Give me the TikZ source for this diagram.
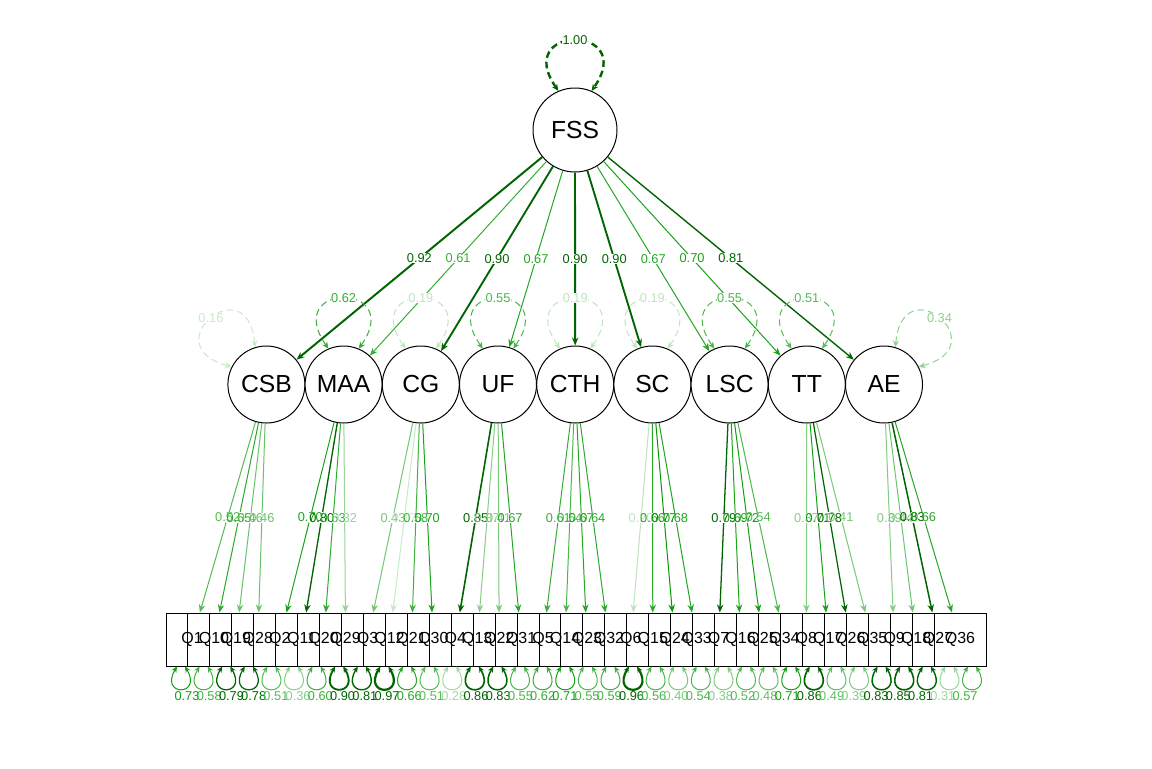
\documentclass[tikz,border=0pt]{standalone}
\usepackage{fontspec}
\setmainfont{Liberation Sans}
\usetikzlibrary{arrows.meta,calc}
\definecolor{dkg}{HTML}{006400}
\definecolor{ltg}{HTML}{009900}
\newcommand\mkcol[1]{%
  \pgfmathtruncatemacro\isdk{(#1>=0.775)?1:0}%
  \ifnum\isdk=1
    \colorlet{ec}{dkg}\pgfmathsetmacro\ew{0.9+0.8*(#1-0.775)/0.2}%
  \else
    \pgfmathtruncatemacro\pc{round(#1/0.775*100)}\colorlet{ec}{ltg!\pc!white}\def\ew{0.75}%
  \fi}
\newcommand\fsslist{CSB/0.92,MAA/0.61,CG/0.90,UF/0.67,CTH/0.90,SC/0.90,LSC/0.67,TT/0.70,AE/0.81}
\newcommand\loadlist{CSB/1/0.52,CSB/10/0.65,CSB/19/0.46,CSB/28/0.46,
  MAA/2/0.70,MAA/11/0.80,MAA/20/0.63,MAA/29/0.32,
  CG/3/0.43,CG/12/0.17,CG/21/0.58,CG/30/0.70,
  UF/4/0.85,UF/13/0.37,UF/22/0.41,UF/31/0.67,
  CTH/5/0.61,CTH/14/0.54,CTH/23/0.67,CTH/32/0.64,
  SC/6/0.20,SC/15/0.66,SC/24/0.77,SC/33/0.68,
  LSC/7/0.79,LSC/16/0.69,LSC/25/0.72,LSC/34/0.54,
  TT/8/0.37,TT/17/0.71,TT/26/0.78,TT/35/0.41,
  AE/9/0.39,AE/18/0.44,AE/27/0.83,AE/36/0.66}
\newcommand\latreslist{FSS/1.00/90,CSB/0.16/130,MAA/0.62/90,CG/0.19/90,UF/0.55/90,CTH/0.19/90,SC/0.19/90,LSC/0.55/90,TT/0.51/90,AE/0.34/50}
\newcommand\manreslist{1/0.73,10/0.58,19/0.79,28/0.78,2/0.51,11/0.36,20/0.60,29/0.90,3/0.81,12/0.97,21/0.66,30/0.51,4/0.28,13/0.86,22/0.83,31/0.55,5/0.62,14/0.71,23/0.55,32/0.59,6/0.96,15/0.56,24/0.40,33/0.54,7/0.38,16/0.52,25/0.48,34/0.71,8/0.86,17/0.49,26/0.39,35/0.83,9/0.85,18/0.81,27/0.31,36/0.57}
% all edge labels, drawn with a given style (background pass / text pass)
\newcommand\alllabels[2]{%
  \foreach \f/\v in \fsslist{\mkcol{\v}\path (FSS) -- node[#1] (#2f\f) {\v} (\f);}
  \foreach \f/\q/\v in \loadlist{\mkcol{\v}\path (\f) -- node[#1] (#2l\q) {\v} (Q\q);}
  \foreach \f/\v/\p in \latreslist{\mkcol{\v}%
    \pgfmathtruncatemacro\angA{\p+23}\pgfmathtruncatemacro\angB{\p-23}%
    \path (\f.\angA) .. controls +({82*cos(\p+35)},{-82*sin(\p+35)}) and +({82*cos(\p-35)},{-82*sin(\p-35)}) .. node[#1,pos=0.5] (#2v\f) {\v} (\f.\angB);}
  \foreach \q/\v [count=\i from 0] in \manreslist{\mkcol{\v}%
    \pgfmathsetmacro\lx{187+22.23*\i}\node[#1] (#2r\q) at (\lx,696) {\v};}}
\begin{document}
\begin{tikzpicture}[x=0.75pt,y=-0.75pt,
  lat/.style={circle,draw=black,fill=white,line width=0.75pt,minimum size=57.75pt,inner sep=0pt,font=\fontsize{18.5}{20}\selectfont},
  topnode/.style={lat,minimum size=63pt},
  man/.style={rectangle,draw=black,fill=white,line width=0.75pt,minimum width=39pt,minimum height=39.75pt,inner sep=0pt},
  mantext/.style={inner sep=0pt,font=\fontsize{12}{14}\selectfont},
  lfont/.style={inner sep=0.3pt,font=\fontsize{9.6}{10}\selectfont},
  labbg/.style={lfont,fill=white,text opacity=0},
  labtx/.style={lfont,text=ec},
  tip/.style={-{Stealth[length=6pt,width=4.8pt]}},
  both/.style={{Stealth[length=5pt,width=4.5pt]}-{Stealth[length=5pt,width=4.5pt]}},
  bothsmall/.style={{Stealth[length=4.5pt,width=4pt]}-{Stealth[length=4.5pt,width=4pt]}},
  dsh/.style={dash pattern=on 5pt off 3pt}]
\fill[white] (0,0) rectangle (1152,768);
\useasboundingbox (0,0) rectangle (1152,768);
% nodes
\node[topnode] (FSS) at (575,130) {FSS};
\foreach \f [count=\k from 0] in {CSB,MAA,CG,UF,CTH,SC,LSC,TT,AE}
  \node[lat] (\f) at ({266.4+77.2*\k},384.5) {\f};
\foreach \q [count=\i from 0] in {1,10,19,28,2,11,20,29,3,12,21,30,4,13,22,31,5,14,23,32,6,15,24,33,7,16,25,34,8,17,26,35,9,18,27,36}
  \node[man] (Q\q) at ({192+21.943*\i},639.5) {};
\foreach \q in {1,10,19,28,2,11,20,29,3,12,21,30,4,13,22,31,5,14,23,32,6,15,24,33,7,16,25,34,8,17,26,35,9,18,27,36}
  \node[mantext] (T\q) at (Q\q) {Q\q};
% FSS -> latents
\foreach \f/\v in \fsslist{
  \mkcol{\v}
  \draw[tip,draw=ec,line width=\ew pt] (FSS) -- (\f);
}
% latents -> indicators
\foreach \f/\q/\v in \loadlist{
  \mkcol{\v}
  \draw[tip,draw=ec,line width=\ew pt] (\f) -- (Q\q);
}
% residual loops of latents
\foreach \f/\v/\p in \latreslist{
  \mkcol{\v}
  \pgfmathtruncatemacro\angA{\p+23}
  \pgfmathtruncatemacro\angB{\p-23}
  \draw[both,dsh,draw=ec,line width=\ew pt] (\f.\angA) .. controls +({82*cos(\p+35)},{-82*sin(\p+35)}) and +({82*cos(\p-35)},{-82*sin(\p-35)}) .. (\f.\angB);
}
% residual loops of indicators
\foreach \q/\v [count=\i from 0] in \manreslist{
  \mkcol{\v}
  \pgfmathsetmacro\oo{-11+0.657*\i}
  \draw[bothsmall,draw=ec,line width=\ew pt] ($(Q\q.south)+(\oo-4,0)$) .. controls +(-18,30) and +(18,30) .. ($(Q\q.south)+(\oo+4,0)$);
}
% labels: backgrounds first, then texts
\alllabels{labbg}{b}
\alllabels{labtx}{t}
\end{tikzpicture}
\end{document}
